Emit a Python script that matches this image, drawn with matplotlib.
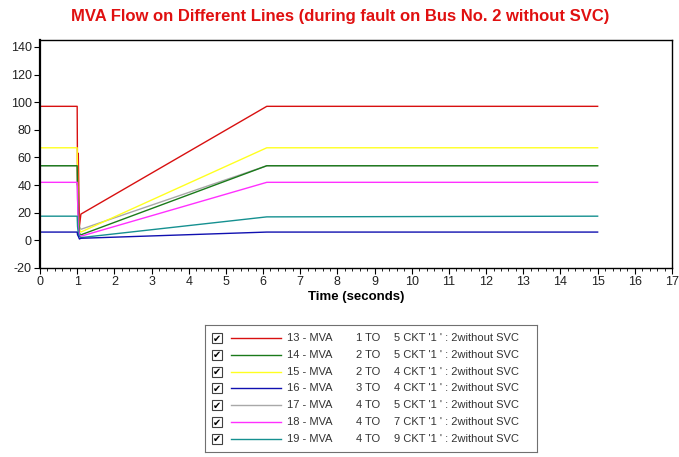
import matplotlib
matplotlib.use("Agg")
import matplotlib.pyplot as plt
from matplotlib.patches import Rectangle

plt.rcParams['font.family'] = ['Liberation Sans', 'DejaVu Sans']
plt.rcParams['axes.unicode_minus'] = False

# time points (s)
t = [0, 1.0, 1.01, 1.03, 1.06, 1.1, 6.1, 15]

mva_13 = [97, 97, 40, 63, 10, 19, 97, 97]
mva_14 = [54, 54, 40, 20, 5, 4, 54, 54]
mva_15 = [67, 67, 50, 20, 8, 6, 67, 67]
mva_16 = [6, 6, 4, 3, 1, 1.5, 6, 6]
mva_17 = [54, 54, 30, 20, 10, 8, 54, 54]
mva_18 = [42, 42, 30, 10, 4, 3, 42, 42]
mva_19 = [17.5, 17.5, 10, 5, 3, 2, 17, 17.5]

series = [mva_13, mva_14, mva_15, mva_16, mva_17, mva_18, mva_19]
colors = ['#d81010', '#1a7a1a', '#ffff20', '#1010b0', '#a8a8a8', '#ff30ff', '#159090']
names = ['13 - MVA', '14 - MVA', '15 - MVA', '16 - MVA', '17 - MVA', '18 - MVA', '19 - MVA']
from_bus = ['1 TO', '2 TO', '2 TO', '3 TO', '4 TO', '4 TO', '4 TO']
to_desc = ["5 CKT '1 ' : 2without SVC", "5 CKT '1 ' : 2without SVC",
           "4 CKT '1 ' : 2without SVC", "4 CKT '1 ' : 2without SVC",
           "5 CKT '1 ' : 2without SVC", "7 CKT '1 ' : 2without SVC",
           "9 CKT '1 ' : 2without SVC"]

W, H = 679, 457
fig = plt.figure(figsize=(W / 100, H / 100), dpi=100)

ax = fig.add_axes([40 / W, 1 - 268 / H, 632 / W, 228 / H])
# draw order so green sits on top of gray like in the original
order = [4, 0, 2, 1, 5, 6, 3]
for i in order:
    ax.plot(t, series[i], color=colors[i], linewidth=1.0)

ax.set_xlim(0, 17)
ax.set_ylim(-20, 145)
ax.set_xticks(range(0, 18))
ax.set_yticks(range(-20, 141, 20))
ax.set_xticks([x / 5 for x in range(0, 86)], minor=True)
ax.tick_params(labelsize=9, length=4, width=0.8, pad=2, labelcolor='#222222')
ax.tick_params(which='minor', length=2, width=0.6)
for s in ax.spines.values():
    s.set_linewidth(1.0)
ax.spines['left'].set_linewidth(1.6)
ax.set_xlabel('Time (seconds)', fontsize=9.5, fontweight='bold', labelpad=2)

fig.text(340 / W, 1 - 17 / H,
         'MVA Flow on Different Lines (during fault on Bus No. 2 without SVC)',
         color='#e01010', fontsize=12, fontweight='bold', ha='center', va='center')

# legend panel
lg = fig.add_axes([205 / W, 1 - 452 / H, 332 / W, 127 / H])
lg.set_xlim(0, 332)
lg.set_ylim(127, 0)
lg.set_xticks([])
lg.set_yticks([])
for s in lg.spines.values():
    s.set_color('#707070')
    s.set_linewidth(0.8)

for k in range(7):
    y = 13 + k * 16.8
    lg.add_patch(Rectangle((7, y - 5), 10, 10, facecolor='white', edgecolor='#404040', linewidth=0.8))
    lg.text(12, y + 0.5, '\u2714', family='DejaVu Sans', fontsize=7, ha='center', va='center', color='black')
    lg.plot([26, 76], [y, y], color=colors[k], linewidth=1.0)
    lg.text(82, y, names[k], fontsize=8, va='center', color='#333333')
    lg.text(151, y, from_bus[k], fontsize=8, va='center', color='#333333')
    lg.text(189, y, to_desc[k], fontsize=8, va='center', color='#333333')

fig.savefig('out.png', dpi=100)
